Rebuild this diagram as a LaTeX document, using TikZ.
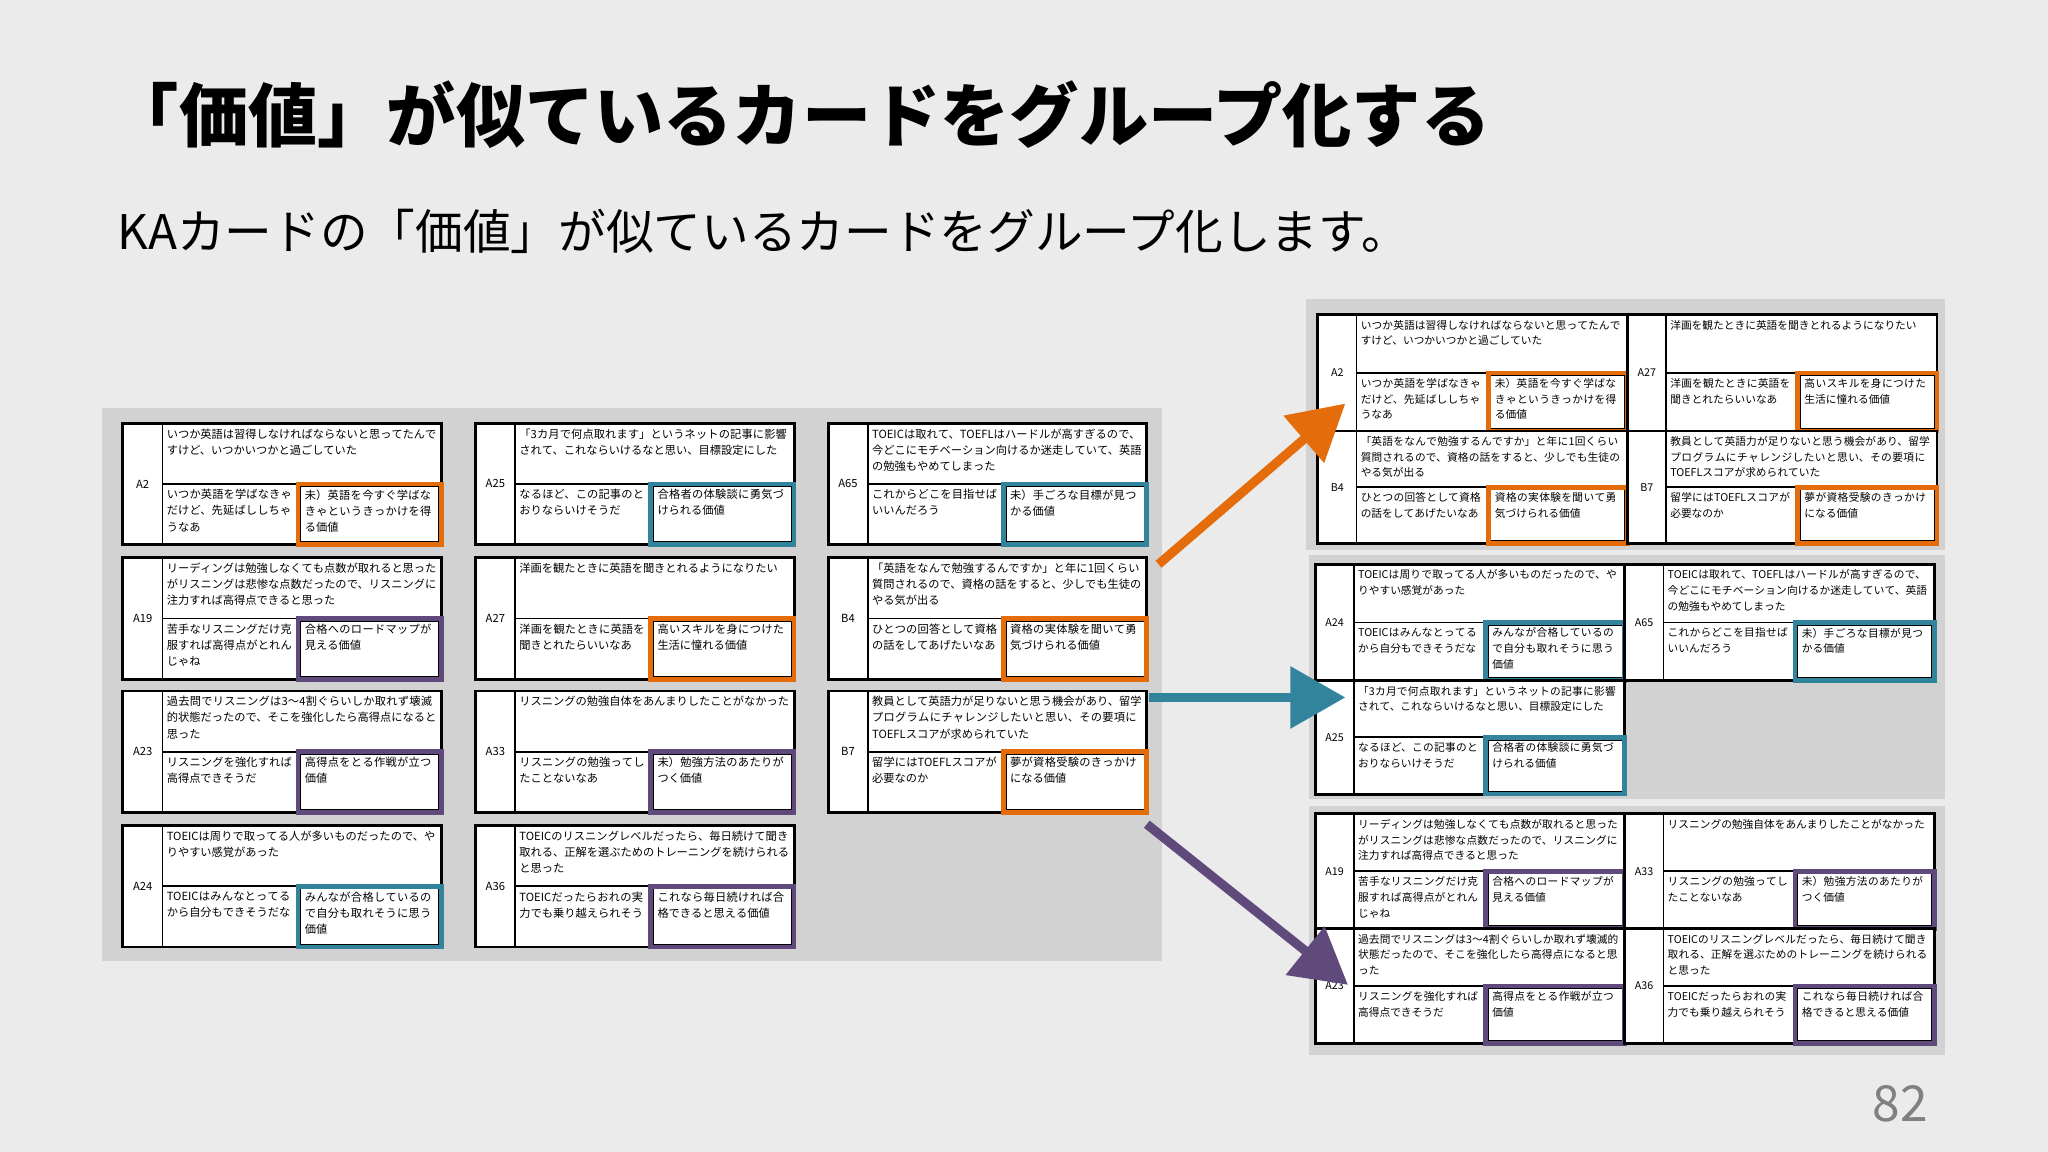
\documentclass[tikz,border=0pt]{standalone}
\usepackage{fontspec}
\setmainfont{Noto Sans CJK JP}
\XeTeXlinebreaklocale "ja"
\XeTeXlinebreakskip=0pt plus 1pt
\usetikzlibrary{arrows.meta}
\definecolor{bg}{HTML}{EBEBEB}
\definecolor{panel}{HTML}{D2D2D2}
\definecolor{cor}{HTML}{E46C0A}
\definecolor{cte}{HTML}{31849B}
\definecolor{cpu}{HTML}{604A7B}
\newcommand\cardfs{\fontsize{8.6}{12.3}\selectfont}
\newcommand\cside{L}
\tikzset{
  ctext/.style={anchor=north west,inner sep=0pt,align=left,font=\cardfs},
  cframe/.style={draw=black,line width=2.2pt,fill=white},
  cline/.style={draw=black,line width=1.3pt},
  bigarrow/.style={line width=7pt,-{Triangle[length=42pt,width=46pt]}},
}
% \mycard{x}{y}{w}{h}{label}{top}{bottomleft}{value}{color}
\newcommand\mycard[9]{%
  \pgfmathsetmacro\cx{#1}\pgfmathsetmacro\cy{#2}%
  \pgfmathsetmacro\lx{\cx+0.125*#3}\pgfmathsetmacro\my{\cy+0.5*#4}%
  \pgfmathsetmacro\vx{\cx+0.55*#3}\pgfmathsetmacro\rx{\cx+#3}\pgfmathsetmacro\by{\cy+#4}%
  \pgfmathsetmacro\tw{0.875*#3-7}\pgfmathsetmacro\bw{0.425*#3-6}\pgfmathsetmacro\vw{0.45*#3-9}%
  \draw[cframe] (\cx,\cy) rectangle (\rx,\by);
  \draw[cline] (\lx,\cy) -- (\lx,\by) (\lx,\my) -- (\rx,\my);
  \node[font=\cardfs,inner sep=0pt] (\cside#5-lab) at ({(\cx+\lx)/2},\my) {#5};
  \node[ctext,text width=\tw pt] (\cside#5-top) at (\lx+3,\cy+4) {#6};
  \node[ctext,text width=\bw pt] (\cside#5-bl) at (\lx+3,\my+4) {#7};
  \draw[black,line width=1pt] (\vx+2,\my+2) rectangle (\rx-2,\by-2);
  \draw[#9,line width=3.6pt] (\vx,\my) rectangle (\rx,\by);
  \node[ctext,text width=\vw pt] (\cside#5-val) at (\vx+5,\my+4) {#8};
}
\begin{document}
\begin{tikzpicture}[x=1pt,y=-1pt]
\fill[bg] (0,0) rectangle (1568,882);
\useasboundingbox (0,0) rectangle (1568,882);
\node[anchor=west,inner sep=0pt,font=\fontsize{53}{60}\selectfont\bfseries] (title) at (84,88) {「価値」が似ているカードをグループ化する};
\node[anchor=west,inner sep=0pt,font=\fontsize{36.5}{44}\selectfont] (sub) at (90,177) {KAカードの「価値」が似ているカードをグループ化します。};
\node[anchor=east,inner sep=0pt,text=black!50,font=\fontsize{38}{44}\selectfont] (pg) at (1476,845) {82};
% left panel
\fill[panel] (78,312) rectangle (890,736);
\mycard{94}{324}{244}{93}{A2}{いつか英語は習得しなければならないと思ってたんですけど、いつかいつかと過ごしていた}{いつか英語を学ばなきゃだけど、先延ばししちゃうなあ}{未）英語を今すぐ学ばなきゃというきっかけを得る価値}{cor}
\mycard{94}{427}{244}{93}{A19}{リーディングは勉強しなくても点数が取れると思ったがリスニングは悲惨な点数だったので、リスニングに注力すれば高得点できると思った}{苦手なリスニングだけ克服すれば高得点がとれんじゃね}{合格へのロードマップが見える価値}{cpu}
\mycard{94}{529}{244}{93}{A23}{過去問でリスニングは3〜4割ぐらいしか取れず壊滅的状態だったので、そこを強化したら高得点になると思った}{リスニングを強化すれば高得点できそうだ}{高得点をとる作戦が立つ価値}{cpu}
\mycard{94}{632}{244}{93}{A24}{TOEICは周りで取ってる人が多いものだったので、やりやすい感覚があった}{TOEICはみんなとってるから自分もできそうだな}{みんなが合格しているので自分も取れそうに思う価値}{cte}
\mycard{364}{324}{244}{93}{A25}{「3カ月で何点取れます」というネットの記事に影響されて、これならいけるなと思い、目標設定にした}{なるほど、この記事のとおりならいけそうだ}{合格者の体験談に勇気づけられる価値}{cte}
\mycard{364}{427}{244}{93}{A27}{洋画を観たときに英語を聞きとれるようになりたい}{洋画を観たときに英語を聞きとれたらいいなあ}{高いスキルを身につけた生活に憧れる価値}{cor}
\mycard{364}{529}{244}{93}{A33}{リスニングの勉強自体をあんまりしたことがなかった}{リスニングの勉強ってしたことないなあ}{未）勉強方法のあたりがつく価値}{cpu}
\mycard{364}{632}{244}{93}{A36}{TOEICのリスニングレベルだったら、毎日続けて聞き取れる、正解を選ぶためのトレーニングを続けられると思った}{TOEICだったらおれの実力でも乗り越えられそう}{これなら毎日続ければ合格できると思える価値}{cpu}
\mycard{634}{324}{244}{93}{A65}{TOEICは取れて、TOEFLはハードルが高すぎるので、今どこにモチベーション向けるか迷走していて、英語の勉強もやめてしまった}{これからどこを目指せばいいんだろう}{未）手ごろな目標が見つかる価値}{cte}
\mycard{634}{427}{244}{93}{B4}{「英語をなんで勉強するんですか」と年に1回くらい質問されるので、資格の話をすると、少しでも生徒のやる気が出る}{ひとつの回答として資格の話をしてあげたいなあ}{資格の実体験を聞いて勇気づけられる価値}{cor}
\mycard{634}{529}{244}{93}{B7}{教員として英語力が足りないと思う機会があり、留学プログラムにチャレンジしたいと思い、その要項にTOEFLスコアが求められていた}{留学にはTOEFLスコアが必要なのか}{夢が資格受験のきっかけになる価値}{cor}
% right panels
\fill[panel] (1000,229) rectangle (1489,421);
\fill[panel] (1002,425) rectangle (1489,612);
\fill[panel] (1002,617) rectangle (1489,808);
\renewcommand\cardfs{\fontsize{8.2}{12}\selectfont}
\renewcommand\cside{R}
\mycard{1009}{241}{237}{89}{A2}{いつか英語は習得しなければならないと思ってたんですけど、いつかいつかと過ごしていた}{いつか英語を学ばなきゃだけど、先延ばししちゃうなあ}{未）英語を今すぐ学ばなきゃというきっかけを得る価値}{cor}
\mycard{1246}{241}{237}{89}{A27}{洋画を観たときに英語を聞きとれるようになりたい}{洋画を観たときに英語を聞きとれたらいいなあ}{高いスキルを身につけた生活に憧れる価値}{cor}
\mycard{1009}{330}{237}{86}{B4}{「英語をなんで勉強するんですか」と年に1回くらい質問されるので、資格の話をすると、少しでも生徒のやる気が出る}{ひとつの回答として資格の話をしてあげたいなあ}{資格の実体験を聞いて勇気づけられる価値}{cor}
\mycard{1246}{330}{237}{86}{B7}{教員として英語力が足りないと思う機会があり、留学プログラムにチャレンジしたいと思い、その要項にTOEFLスコアが求められていた}{留学にはTOEFLスコアが必要なのか}{夢が資格受験のきっかけになる価値}{cor}
\mycard{1007}{432}{237}{89}{A24}{TOEICは周りで取ってる人が多いものだったので、やりやすい感覚があった}{TOEICはみんなとってるから自分もできそうだな}{みんなが合格しているので自分も取れそうに思う価値}{cte}
\mycard{1244}{432}{237}{89}{A65}{TOEICは取れて、TOEFLはハードルが高すぎるので、今どこにモチベーション向けるか迷走していて、英語の勉強もやめてしまった}{これからどこを目指せばいいんだろう}{未）手ごろな目標が見つかる価値}{cte}
\mycard{1007}{521}{237}{87}{A25}{「3カ月で何点取れます」というネットの記事に影響されて、これならいけるなと思い、目標設定にした}{なるほど、この記事のとおりならいけそうだ}{合格者の体験談に勇気づけられる価値}{cte}
\mycard{1007}{623}{237}{88}{A19}{リーディングは勉強しなくても点数が取れると思ったがリスニングは悲惨な点数だったので、リスニングに注力すれば高得点できると思った}{苦手なリスニングだけ克服すれば高得点がとれんじゃね}{合格へのロードマップが見える価値}{cpu}
\mycard{1244}{623}{237}{88}{A33}{リスニングの勉強自体をあんまりしたことがなかった}{リスニングの勉強ってしたことないなあ}{未）勉強方法のあたりがつく価値}{cpu}
\mycard{1007}{711}{237}{88}{A23}{過去問でリスニングは3〜4割ぐらいしか取れず壊滅的状態だったので、そこを強化したら高得点になると思った}{リスニングを強化すれば高得点できそうだ}{高得点をとる作戦が立つ価値}{cpu}
\mycard{1244}{711}{237}{88}{A36}{TOEICのリスニングレベルだったら、毎日続けて聞き取れる、正解を選ぶためのトレーニングを続けられると思った}{TOEICだったらおれの実力でも乗り越えられそう}{これなら毎日続ければ合格できると思える価値}{cpu}
% arrows
\coordinate (oS) at (887,432); \coordinate (oE) at (1030,309);
\coordinate (tS) at (880,534); \coordinate (tE) at (1030,534);
\coordinate (pS) at (878,631); \coordinate (pE) at (1032,754);
\draw[bigarrow,cor] (oS) -- (oE);
\draw[bigarrow,cte] (tS) -- (tE);
\draw[bigarrow,cpu] (pS) -- (pE);
\end{tikzpicture}
\end{document}
